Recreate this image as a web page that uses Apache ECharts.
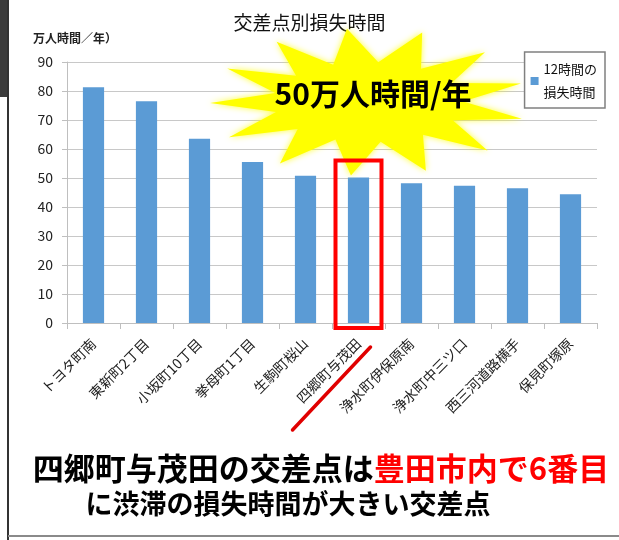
<!DOCTYPE html>
<html>
<head>
<meta charset="utf-8">
<script src="https://cdn.jsdelivr.net/npm/echarts@6/dist/echarts.min.js"></script>
<style>
  html, body { margin: 0; padding: 0; background: #fff; }
  #main { width: 619px; height: 540px; }
</style>
</head>
<body>
<div id="main"></div>
<script>
var font = '"Noto Sans CJK JP", "Noto Sans", sans-serif';

// 交差点名と損失時間（万人時間/年）
var places = ['トヨタ町南', '東新町2丁目', '小坂町10丁目', '挙母町1丁目', '生駒町桜山',
  '四郷町与茂田', '浄水町伊保原南', '浄水町中三ツ口', '西三河道路横手', '保見町塚原'];
var lossHours = [81.3, 76.5, 63.5, 55.5, 50.8, 50.2, 48.2, 47.3, 46.5, 44.4];
var yTicks = [0, 90, 10];
var seriesName = '12時間の損失時間';
var target = '四郷町与茂田';

var chart = echarts.init(document.getElementById('main'));

// 黄色の爆発マーク
function starPoints(cx, cy) {
  var pts = [];
  var n = 13;
  for (var i = 0; i < n * 2; i++) {
    var a = Math.PI * i / n - Math.PI / 2 + 0.35;
    var outer = i % 2 === 0;
    var rx = outer ? 158 : 95;
    var ry = outer ? 74 : 40;
    pts.push([cx + rx * Math.cos(a), cy + ry * Math.sin(a)]);
  }
  return pts;
}

var option = {
  animation: false,
  textStyle: { fontFamily: font },
  title: {
    text: '交差点別損失時間',
    left: 'center',
    top: 8,
    textStyle: { fontSize: 19, fontWeight: 'normal', color: '#111', fontFamily: font }
  },
  legend: {
    data: [seriesName],
    right: 14,
    top: 52,
    orient: 'vertical',
    backgroundColor: '#fff',
    borderColor: '#808080',
    borderWidth: 1.5,
    padding: [6, 8, 4, 6],
    itemWidth: 8,
    itemHeight: 8,
    itemGap: 0,
    icon: 'rect',
    formatter: function () { return '12時間の\n損失時間'; },
    textStyle: { fontSize: 13, color: '#111', lineHeight: 23, fontFamily: font },
    z: 20
  },
  grid: { left: 67, right: 22, top: 62, bottom: 217 },
  xAxis: {
    type: 'category',
    data: places,
    axisLine: { lineStyle: { color: '#bfbfbf', width: 1 } },
    axisTick: { show: true, length: 6, lineStyle: { color: '#bfbfbf' } },
    axisLabel: { rotate: 45, margin: 18, fontSize: 14, color: '#222', interval: 0 }
  },
  yAxis: {
    type: 'value',
    min: yTicks[0],
    max: yTicks[1],
    interval: yTicks[2],
    axisLine: { show: true, lineStyle: { color: '#bfbfbf' } },
    axisTick: { show: true, length: 5, lineStyle: { color: '#bfbfbf' } },
    axisLabel: { fontSize: 14, color: '#222', margin: 14 },
    splitLine: { lineStyle: { color: '#c8c8c8' } }
  },
  series: [{
    name: seriesName,
    type: 'bar',
    data: lossHours,
    barWidth: '40%',
    itemStyle: { color: '#5b9bd5' }
  }]
};
chart.setOption(option);

// 赤枠と下線を対象の交差点に合わせる
var topPt = chart.convertToPixel({ gridIndex: 0 }, [target, 56]);
var basePt = chart.convertToPixel({ gridIndex: 0 }, [target, 0]);
var cx = topPt[0];

chart.setOption({
  graphic: [
    { type: 'rect', shape: { x: 0, y: 0, width: 8, height: 97 }, style: { fill: '#3c3c3c' }, z: 1 },
    { type: 'line', shape: { x1: 8, y1: 0, x2: 8, y2: 540 }, style: { stroke: '#333', lineWidth: 2 }, z: 1 },
    { type: 'line', shape: { x1: 8, y1: 536, x2: 619, y2: 536 }, style: { stroke: '#8a8a8a', lineWidth: 2 }, z: 1 },
    {
      type: 'polygon',
      shape: { points: starPoints(368, 102) },
      style: { fill: '#ffff00', shadowBlur: 6, shadowColor: 'rgba(255,255,0,0.8)' },
      z: 10
    },
    {
      type: 'text',
      x: 373, y: 94,
      style: {
        text: '50万人時間/年', fill: '#000', fontSize: 30, fontWeight: 'bold',
        fontFamily: font, align: 'center', verticalAlign: 'middle'
      },
      z: 11
    },
    {
      type: 'text',
      x: 33, y: 32,
      style: { text: '万人時間／年）', fill: '#222', fontSize: 12, fontWeight: 'bold', fontFamily: font },
      z: 11
    },
    {
      type: 'rect',
      shape: { x: cx - 23, y: topPt[1], width: 46, height: basePt[1] - topPt[1] + 5 },
      style: { fill: 'none', stroke: '#ff0000', lineWidth: 4 },
      z: 12
    },
    {
      type: 'line',
      shape: { x1: cx - 66, y1: basePt[1] + 107, x2: cx + 12, y2: basePt[1] + 24 },
      style: { stroke: '#e00000', lineWidth: 3.5, lineCap: 'round' },
      z: 12
    },
    {
      type: 'text',
      x: 321, y: 468,
      style: {
        text: '{a|四郷町与茂田の交差点は}{b|豊田市内で6番目}',
        align: 'center', verticalAlign: 'middle',
        rich: {
          a: { fontSize: 31, fontWeight: 'bold', fill: '#000', color: '#000', fontFamily: font },
          b: { fontSize: 31, fontWeight: 'bold', fill: '#ff0000', color: '#ff0000', fontFamily: font }
        }
      },
      z: 12
    },
    {
      type: 'text',
      x: 288, y: 504,
      style: {
        text: 'に渋滞の損失時間が大きい交差点', fill: '#000', fontSize: 27, fontWeight: 'bold',
        fontFamily: font, align: 'center', verticalAlign: 'middle'
      },
      z: 12
    }
  ]
});
</script>
</body>
</html>
